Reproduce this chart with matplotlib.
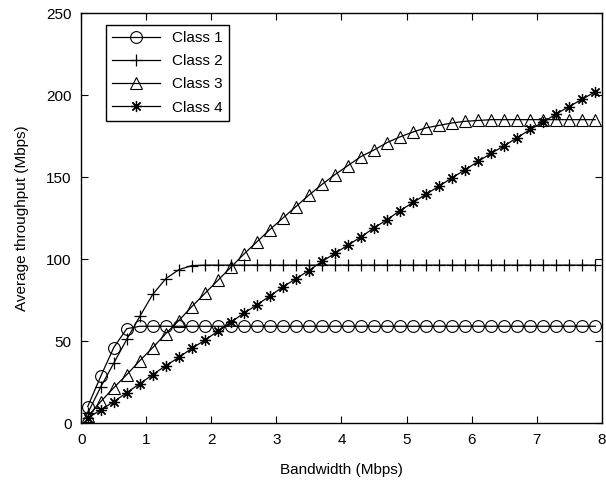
import matplotlib
matplotlib.use("Agg")
import matplotlib.pyplot as plt

plt.rcParams['font.family'] = ['Liberation Sans', 'DejaVu Sans']

bandwidth = [0.1 + 0.2 * i for i in range(40)]

class1 = [10, 28.5, 46, 57.5] + [59] * 36

class2 = [6, 22, 36.5, 51, 65, 78.5, 88, 93.5, 96] + [96.3] * 31

class3 = [4, 13, 21.5, 29.5, 38, 46, 54.5, 62.5, 71, 79, 87, 95, 103, 110.5,
          118, 125, 132, 139, 145.5, 151.5, 157, 162.5, 166.5, 171, 174.5,
          177.5, 180, 181.5, 183, 184, 184.5, 185] + [185] * 8

class4 = [3, 8, 13, 18.5, 24, 29.5, 35, 40, 45.5, 50.5, 56, 61.5, 67, 72,
          77.5, 83, 88, 93, 98.5, 103.5, 108.5, 113.5, 119, 124, 129.5, 134.5,
          139.5, 144.5, 149.5, 154.5, 159.5, 164.5, 169, 174, 179, 183.5,
          188.5, 193, 197.5, 202]

labels = ["Class 1", "Class 2", "Class 3", "Class 4"]

fig = plt.figure(figsize=(6.06, 4.84), dpi=100)
ax = fig.add_axes([0.134, 0.126, 0.859, 0.847])

ax.plot(bandwidth, class1, color="black", lw=0.9, marker="o", ms=8.5,
        mfc="none", mec="black", mew=0.8, label=labels[0])
ax.plot(bandwidth, class2, color="black", lw=0.9, marker="+", ms=9,
        mew=0.9, label=labels[1])
ax.plot(bandwidth, class3, color="black", lw=0.9, marker="^", ms=9,
        mfc="none", mec="black", mew=0.8, label=labels[2])
ax.plot(bandwidth, class4, color="black", lw=0.9, marker=(8, 2, 0), ms=8,
        mew=0.9, label=labels[3])

ax.set_xlim(0, 8)
ax.set_ylim(0, 250)
ax.set_xticks(range(0, 9))
ax.set_yticks(range(0, 251, 50))
ax.tick_params(direction="in", top=True, right=True, length=5, labelsize=11,
               pad=7)
for s in ax.spines.values():
    s.set_linewidth(1.0)

ax.set_xlabel("Bandwidth (Mbps)", fontsize=11, labelpad=12)
ax.set_ylabel("Average throughput (Mbps)", fontsize=11, labelpad=12)

leg = ax.legend(loc="upper left", bbox_to_anchor=(0.048, 0.971),
                borderaxespad=0, fancybox=False, edgecolor="black",
                fontsize=11, handlelength=3.1, labelspacing=0.6,
                framealpha=1)
leg.get_frame().set_linewidth(1.0)

fig.savefig("out.png", dpi=100)
